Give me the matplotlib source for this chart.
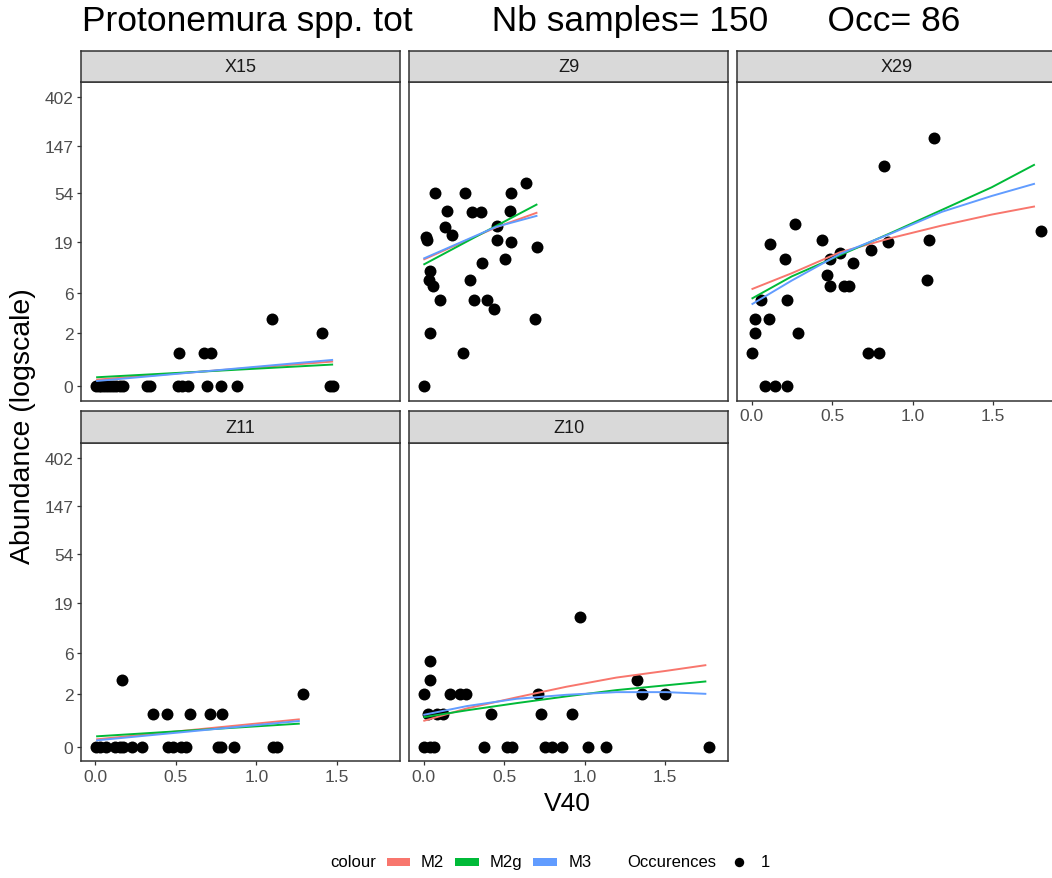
import numpy as np
import matplotlib
matplotlib.use('Agg')
import matplotlib.pyplot as plt
from matplotlib.lines import Line2D
from matplotlib.patches import Rectangle

plt.rcParams['font.family'] = ['Liberation Sans', 'DejaVu Sans']

# ---- data (V40 value, abundance count) ----
x15_v40 = [0.006, 0.02, 0.035, 0.05, 0.07, 0.09, 0.11, 0.13, 0.15, 0.17,
           0.32, 0.34, 0.51, 0.54, 0.575, 0.69, 0.78, 0.88, 1.455, 1.476,
           0.517, 0.673, 0.72, 1.097, 1.404]
x15_abund = [0, 0, 0, 0, 0, 0, 0, 0, 0, 0,
             0, 0, 0, 0, 0, 0, 0, 0, 0, 0,
             1, 1, 1, 3, 2]

z9_v40 = [0.071, 0.257, 0.54, 0.633, 0.146, 0.30, 0.356, 0.536, 0.133, 0.176,
          0.453, 0.015, 0.017, 0.455, 0.54, 0.705, 0.505, 0.364, 0.04, 0.032,
          0.057, 0.286, 0.098, 0.31, 0.393, 0.438, 0.688, 0.04, 0.245, 0.001]
z9_abund = [54, 54, 54, 67, 37, 36, 36, 37, 26, 22,
            27, 21, 20, 20, 19, 17, 13, 12, 10, 8,
            7, 8, 5, 5, 5, 4, 3, 2, 1, 0]

x29_v40 = [1.13, 0.82, 1.799, 0.267, 0.435, 0.116, 1.103, 0.847, 0.741, 0.55,
           0.486, 0.207, 0.627, 0.47, 0.488, 0.571, 0.606, 1.091, 0.06, 0.219,
           0.02, 0.107, 0.017, 0.286, 0.004, 0.72, 0.791, 0.081, 0.145, 0.217]
x29_abund = [171, 95, 24, 28, 20, 18, 20, 19, 16, 15,
             13, 13, 12, 9, 7, 7, 7, 8, 5, 5,
             3, 3, 2, 2, 1, 1, 1, 0, 0, 0]

z11_v40 = [0.006, 0.03, 0.064, 0.12, 0.15, 0.17, 0.229, 0.291, 0.45, 0.482,
           0.534, 0.565, 0.761, 0.782, 0.861, 1.103, 1.128,
           0.356, 0.447, 0.585, 0.712, 0.784, 0.165, 1.289]
z11_abund = [0, 0, 0, 0, 0, 0, 0, 0, 0, 0,
             0, 0, 0, 0, 0, 0, 0,
             1, 1, 1, 1, 1, 3, 2]

z10_v40 = [0.971, 0.038, 0.040, 1.326, 0.003, 0.16, 0.226, 0.261, 0.711, 1.355,
           1.50, 0.024, 0.082, 0.119, 0.418, 0.728, 0.918,
           0.003, 0.040, 0.061, 0.373, 0.519, 0.546, 0.752, 0.794, 0.856,
           1.021, 1.132, 1.772]
z10_abund = [14, 5, 3, 3, 2, 2, 2, 2, 2, 2,
             2, 1, 1, 1, 1, 1, 1,
             0, 0, 0, 0, 0, 0, 0, 0, 0,
             0, 0, 0]

# ---- fitted model curves, in log(1 + abundance) units ----
x15_fit_x = [0.01, 1.47]
x15_m2 = [0.138, 0.512]
x15_m2g = [0.187, 0.45]
x15_m3 = [0.11, 0.546]

z9_fit_x = [0.003, 0.45, 0.70]
z9_m2 = [2.637, 3.30, 3.60]
z9_m2g = [2.533, 3.33, 3.77]
z9_m3 = [2.657, 3.31, 3.536]

x29_fit_x = [0.004, 0.248, 0.548, 0.869, 1.18, 1.49, 1.753]
x29_m2 = [2.021, 2.346, 2.782, 3.08, 3.336, 3.564, 3.73]
x29_m2g = [1.827, 2.28, 2.72, 3.19, 3.66, 4.13, 4.595]
x29_m3 = [1.709, 2.194, 2.747, 3.176, 3.62, 3.95, 4.201]

z11_fit_x = [0.01, 1.263]
z11_m2 = [0.159, 0.572]
z11_m2g = [0.221, 0.483]
z11_m3 = [0.138, 0.538]

z10_fit_x = [0.003, 0.267, 0.577, 0.886, 1.196, 1.506, 1.749]
z10_m2 = [0.545, 0.80, 1.03, 1.25, 1.44, 1.58, 1.697]
z10_m2g = [0.621, 0.76, 0.91, 1.05, 1.18, 1.28, 1.359]
z10_m3 = [0.669, 0.848, 1.0, 1.083, 1.138, 1.138, 1.103]

facet_names = ['X15', 'Z9', 'X29', 'Z11', 'Z10']
model_names = ['M2', 'M2g', 'M3']
model_colors = ['#F8766D', '#00BA38', '#619CFF']
ytick_vals = [0, 2, 6, 19, 54, 147, 402]
xtick_vals = [0.0, 0.5, 1.0, 1.5]

panels = [
    (x15_v40, x15_abund, x15_fit_x, [x15_m2, x15_m2g, x15_m3]),
    (z9_v40, z9_abund, z9_fit_x, [z9_m2, z9_m2g, z9_m3]),
    (x29_v40, x29_abund, x29_fit_x, [x29_m2, x29_m2g, x29_m3]),
    (z11_v40, z11_abund, z11_fit_x, [z11_m2, z11_m2g, z11_m3]),
    (z10_v40, z10_abund, z10_fit_x, [z10_m2, z10_m2g, z10_m3]),
]

# ---- layout in pixels ----
W, H = 1052, 879
fig = plt.figure(figsize=(W / 100, H / 100), dpi=100)


def box(l, t, r, b):
    return [l / W, 1 - b / H, (r - l) / W, (b - t) / H]


col_left = [81, 409.3, 737.3]
row_top = [83.3, 444]
pw, ph, strip_h = 318.6, 318.4, 31.6
edge = '#333333'

for i, (name, (vx, ab, fx, fits)) in enumerate(zip(facet_names, panels)):
    r, c = divmod(i, 3)
    l, t = col_left[c], row_top[r]
    ax = fig.add_axes(box(l, t, l + pw, t + ph))
    ax.scatter(vx, np.log1p(ab), s=74, color='black', linewidths=0, zorder=2)
    for fy, col in zip(fits, model_colors):
        ax.plot(fx, fy, color=col, lw=1.4, zorder=3)
    ax.set_xlim(-0.09, 1.889)
    ax.set_ylim(-0.3, 6.31)
    ax.set_xticks(xtick_vals)
    ax.set_xticklabels(['%.1f' % v for v in xtick_vals])
    ax.set_yticks(np.log1p(ytick_vals))
    ax.set_yticklabels([str(v) for v in ytick_vals])
    for s in ax.spines.values():
        s.set_color(edge)
        s.set_linewidth(1.1)
    ax.tick_params(colors=edge, labelcolor='#4D4D4D', labelsize=12.5,
                   length=3, width=0.9, pad=2.5)
    show_x = (r == 1) or (c == 2)
    show_y = (c == 0)
    ax.tick_params(bottom=show_x, labelbottom=show_x, left=show_y, labelleft=show_y)

    sax = fig.add_axes(box(l, t - strip_h, l + pw, t))
    sax.set_facecolor('#D9D9D9')
    sax.set_xticks([])
    sax.set_yticks([])
    for s in sax.spines.values():
        s.set_color(edge)
        s.set_linewidth(1.1)
    sax.text(0.5, 0.5, name, ha='center', va='center', fontsize=13,
             color='#1A1A1A', transform=sax.transAxes)

# titles
fig.text(82 / W, 1 - 22 / H, 'Protonemura spp. tot        Nb samples= 150      Occ= 86',
         fontsize=25.5, ha='left', va='center')
fig.text(23 / W, 1 - 426 / H, 'Abundance (logscale)', rotation=90,
         fontsize=20.5, ha='center', va='center')
fig.text(567 / W, 1 - 804 / H, 'V40', fontsize=19, ha='center', va='center')

# legend
ly = 1 - 863 / H
fig.text(330.7 / W, ly, 'colour', fontsize=12, ha='left', va='center')
key_left = [386.7, 455.3, 533.3]
text_left = [420.7, 490, 568.3]
for name, col, kx, tx in zip(model_names, model_colors, key_left, text_left):
    fig.add_artist(Rectangle((kx / W, 1 - 866.7 / H), 23.3 / W, 7.4 / H,
                             transform=fig.transFigure, color=col, lw=0))
    fig.text(tx / W, ly, name, fontsize=12, ha='left', va='center')
fig.text(627.3 / W, ly, 'Occurences', fontsize=12, ha='left', va='center')
fig.add_artist(Line2D([739.3 / W], [ly], marker='o', ms=6.8, color='black',
                      mew=0, transform=fig.transFigure))
fig.text(761 / W, ly, '1', fontsize=12, ha='left', va='center')

fig.savefig('out.png', dpi=100)
